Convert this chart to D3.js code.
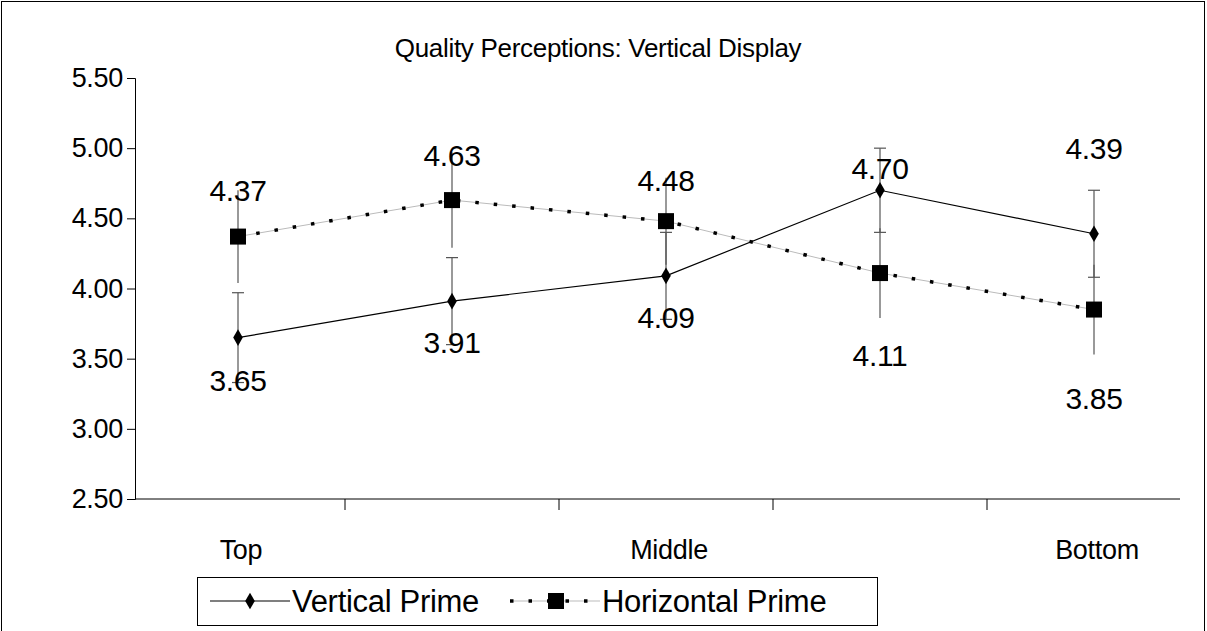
<!DOCTYPE html>
<html lang="en">
<head>
  <meta charset="UTF-8" />
  <title>Quality Perceptions: Vertical Display</title>
  <script src="https://d3js.org/d3.v7.min.js"></script>
  <style>
    body { margin: 0; background: #fff; }
    text { fill: #000; font-family: "Liberation Sans Narrow", "Liberation Sans", Arial, sans-serif; letter-spacing: -0.3px; }
  </style>
</head>
<body>
  <svg width="1207" height="631"></svg>
  <script>
    const categories = ["Top", "Top-Mid", "Middle", "Mid-Bottom", "Bottom"];
    const catLabels = ["Top", "", "Middle", "", "Bottom"];
    const verticalPrime = [3.65, 3.91, 4.09, 4.70, 4.39];
    const verticalErr = [0.32, 0.31, 0.31, 0.30, 0.31];
    const horizontalPrime = [4.37, 4.63, 4.48, 4.11, 3.85];
    const horizontalErr = [0.33, 0.34, 0.31, 0.32, 0.32];
    const yTicks = [2.5, 3.0, 3.5, 4.0, 4.5, 5.0, 5.5];
    const vLabelDy = [53, 52, 52, -11, -75];
    const hLabelDy = [-36, -34, -30, 93, 99];

    const svg = d3.select("svg");
    svg.append("rect").attr("x", 1.5).attr("y", 1.5).attr("width", 1203).attr("height", 640)
      .attr("fill", "none").attr("stroke", "#000").attr("stroke-width", 1);

    const x = d3.scaleBand().domain(categories).range([131, 1201]);
    const y = d3.scaleLinear().domain([2.5, 5.5]).range([499, 78]);
    const cx = i => x(categories[i]) + x.bandwidth() / 2;

    svg.append("text").attr("x", 598).attr("y", 57).attr("text-anchor", "middle")
      .style("font-size", "26px").text("Quality Perceptions: Vertical Display");

    // y axis
    const yAxis = svg.append("g").attr("transform", "translate(135,0)")
      .call(d3.axisLeft(y).tickValues(yTicks).tickFormat(d3.format(".2f")).tickSize(8).tickPadding(4));
    yAxis.select(".domain").attr("stroke", "#000");
    yAxis.selectAll("text").style("font-size", "27px").style("font-family", null).attr("fill", "#000");

    // x axis
    const xg = svg.append("g");
    xg.append("line").attr("x1", 135).attr("x2", 1180).attr("y1", 499).attr("y2", 499).attr("stroke", "#000");
    xg.selectAll("line.tick").data(categories.slice(1)).join("line").attr("class", "tick")
      .attr("x1", d => x(d)).attr("x2", d => x(d)).attr("y1", 499).attr("y2", 510).attr("stroke", "#000");
    xg.selectAll("text").data(categories).join("text")
      .attr("x", d => x(d) + x.bandwidth() / 2 + 3).attr("y", 559).attr("text-anchor", "middle")
      .style("font-size", "27px").text((d, i) => catLabels[i]);

    // error bars
    function errBars(vals, errs, caps) {
      const g = svg.append("g").attr("stroke", "#555").attr("stroke-width", 1.2);
      vals.forEach((v, i) => {
        const px = cx(i);
        g.append("line").attr("x1", px).attr("x2", px).attr("y1", y(v - errs[i])).attr("y2", y(v + errs[i]));
        if (caps) {
          [v - errs[i], v + errs[i]].forEach(e => g.append("line")
            .attr("x1", px - 6).attr("x2", px + 6).attr("y1", y(e)).attr("y2", y(e)));
        }
      });
    }
    errBars(horizontalPrime, horizontalErr, false);
    errBars(verticalPrime, verticalErr, true);

    const line = d3.line().x((d, i) => cx(i)).y(d => y(d));

    // horizontal prime: dotted
    svg.append("path").datum(horizontalPrime).attr("d", line).attr("fill", "none")
      .attr("stroke", "#bbb").attr("stroke-width", 1);
    svg.append("path").datum(horizontalPrime).attr("d", line).attr("fill", "none")
      .attr("stroke", "#000").attr("stroke-width", 3.5).attr("stroke-dasharray", "3.5,15");
    svg.selectAll("rect.hp").data(horizontalPrime).join("rect").attr("class", "hp")
      .attr("x", (d, i) => cx(i) - 8).attr("y", d => y(d) - 8).attr("width", 16).attr("height", 16).attr("fill", "#000");

    // vertical prime: solid
    svg.append("path").datum(verticalPrime).attr("d", line).attr("fill", "none")
      .attr("stroke", "#000").attr("stroke-width", 1.2);
    svg.selectAll("path.vp").data(verticalPrime).join("path").attr("class", "vp")
      .attr("d", d3.symbol(d3.symbolDiamond, 80)).attr("fill", "#000")
      .attr("transform", (d, i) => `translate(${cx(i)},${y(d)})`);

    // data labels
    svg.selectAll("text.vl").data(verticalPrime).join("text").attr("class", "vl")
      .attr("x", (d, i) => cx(i)).attr("y", (d, i) => y(d) + vLabelDy[i]).attr("text-anchor", "middle")
      .style("font-size", "30px").text(d => d.toFixed(2));
    svg.selectAll("text.hl").data(horizontalPrime).join("text").attr("class", "hl")
      .attr("x", (d, i) => cx(i)).attr("y", (d, i) => y(d) + hLabelDy[i]).attr("text-anchor", "middle")
      .style("font-size", "30px").text(d => d.toFixed(2));

    // legend
    const lg = svg.append("g");
    lg.append("rect").attr("x", 197.5).attr("y", 577.5).attr("width", 680).attr("height", 48)
      .attr("fill", "#fff").attr("stroke", "#000");
    lg.append("line").attr("x1", 210).attr("x2", 290).attr("y1", 601).attr("y2", 601).attr("stroke", "#000").attr("stroke-width", 1.2);
    lg.append("path").attr("d", d3.symbol(d3.symbolDiamond, 80)).attr("transform", "translate(250,601)");
    lg.append("text").attr("x", 292).attr("y", 612).style("font-size", "31px").text("Vertical Prime");
    lg.append("line").attr("x1", 510).attr("x2", 600).attr("y1", 601).attr("y2", 601).attr("stroke", "#bbb");
    lg.append("line").attr("x1", 510).attr("x2", 600).attr("y1", 601).attr("y2", 601)
      .attr("stroke", "#000").attr("stroke-width", 3.5).attr("stroke-dasharray", "3.5,15");
    lg.append("rect").attr("x", 548).attr("y", 593).attr("width", 16).attr("height", 16);
    lg.append("text").attr("x", 602).attr("y", 612).style("font-size", "31px").text("Horizontal Prime");
  </script>
</body>
</html>
